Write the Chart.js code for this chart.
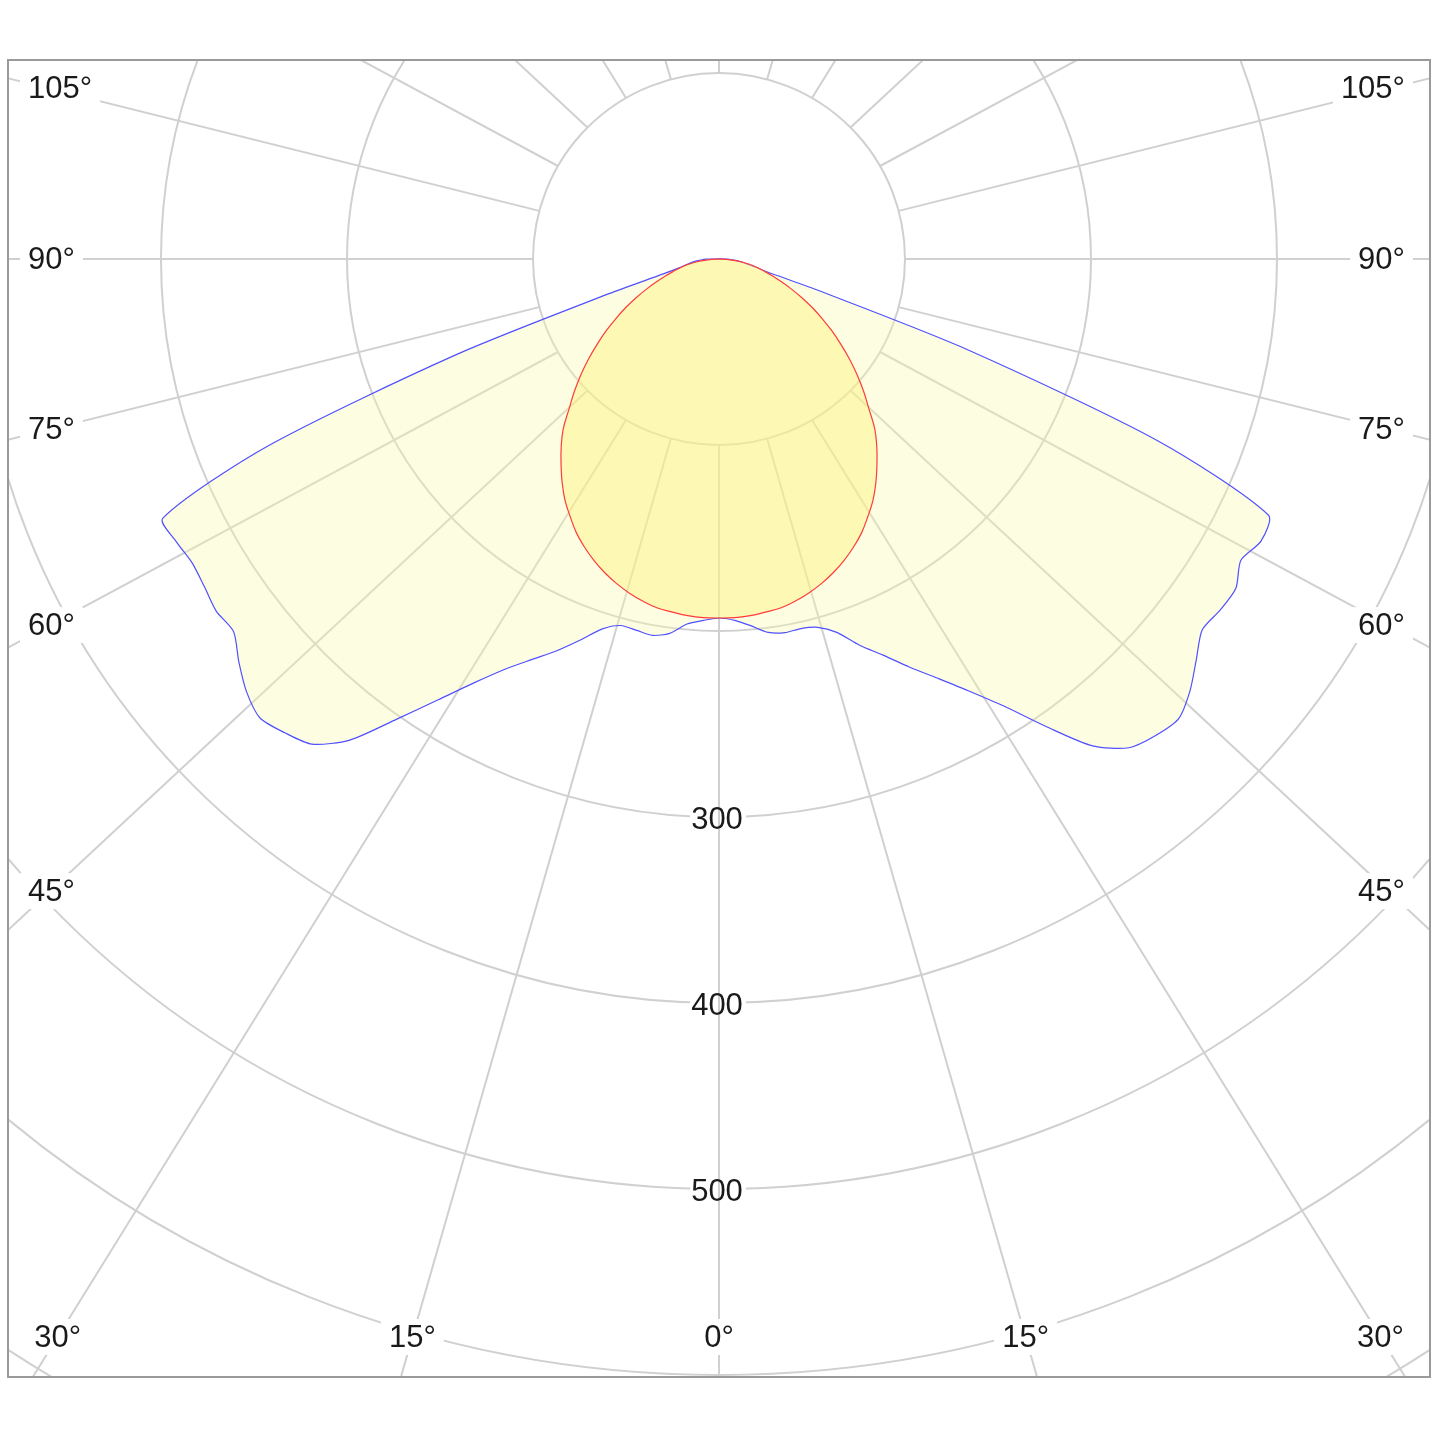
<!DOCTYPE html>
<html>
<head>
<meta charset="utf-8">
<script src="https://cdn.jsdelivr.net/npm/chart.js@4.4.1/dist/chart.umd.min.js"></script>
<style>
  html, body { margin: 0; padding: 0; background: #ffffff; }
  #wrap { position: relative; width: 1445px; height: 1445px; }
</style>
</head>
<body>
<div id="wrap"><canvas id="chart" width="1445" height="1445"></canvas></div>
<script>
// ---- data (luminous intensity) ----
const angles = [0, 2.5, 5, 7.5, 10, 12.5, 15, 17.5, 20, 22.5, 25, 27.5, 30, 32.5, 35, 37.5, 40, 42.5, 45,
                47.5, 50, 52.5, 55, 57.5, 60, 62.5, 65, 67.5, 70, 72.5, 75, 77.5, 80, 82.5, 85, 87.5, 90];

// blue curve, right half (C0)
const c0 = [193, 194.5, 198, 202.5, 204, 203.5, 205, 210.5, 221, 230.5, 242, 254, 268, 285, 307, 330, 343, 347.5, 349.5,
            343.5, 335, 327.5, 329, 329.5, 324, 328.5, 326, 255, 140, 55, 27, 20, 15, 12, 9, 6, 4];

// blue curve, left half (C180)
const c180 = [193, 194.5, 197, 203, 205.5, 204.5, 204, 208.5, 218, 228, 237.5, 248.5, 263, 281, 302, 326, 340.5, 345.5, 349,
              344.5, 337, 329, 330, 328, 327, 329, 330, 262, 150, 62, 31, 22, 18, 15, 12, 9, 6];

// red curve, both halves (C90 / C270)
const c90c270 = [193, 193, 192.5, 191.5, 190.5, 188.5, 186, 183, 179.5, 175.5, 171, 166, 160, 154, 147, 139.5, 132, 124, 114,
                 105.5, 97, 88.5, 80, 72, 64, 56.5, 49, 42, 35.5, 30, 25, 21, 17, 12.5, 8, 4, 0];

const rings = [100, 200, 300, 400, 500, 600, 700];
const ringLabels = [300, 400, 500];
const spokeAngles = [0, 15, 30, 45, 60, 75, 90, 105, 120, 135, 150, 165, 180];

// ---- helpers ----
const rad = d => d * Math.PI / 180;
function halfCurve(vals, side) {
  return angles.map((a, i) => ({ x: side * vals[i] * Math.sin(rad(a)), y: -vals[i] * Math.cos(rad(a)) }));
}
function closedCurve(leftVals, rightVals) {
  const L = halfCurve(leftVals, -1).reverse();
  const R = halfCurve(rightVals, 1);
  const pts = L.concat(R.slice(1));
  pts.push({ x: pts[0].x, y: pts[0].y });
  return pts;
}

const FONT = '31px "Liberation Sans", Arial, sans-serif';
const STRETCH = 1.07;

const polarGrid = {
  id: 'polarGrid',
  beforeDatasetsDraw(chart) {
    const { ctx, chartArea: a, scales: { x, y } } = chart;
    const cx = x.getPixelForValue(0), cy = y.getPixelForValue(0);
    ctx.save();
    ctx.beginPath();
    ctx.rect(a.left, a.top, a.right - a.left, a.bottom - a.top);
    ctx.clip();
    ctx.strokeStyle = '#d0d0d0';
    ctx.lineWidth = 2;
    rings.forEach(r => {
      ctx.beginPath();
      ctx.arc(cx, cy, x.getPixelForValue(r) - cx, 0, Math.PI * 2);
      ctx.stroke();
    });
    // ring label backgrounds
    ctx.font = FONT;
    ringLabels.forEach(v => {
      const py = y.getPixelForValue(-v);
      const w = ctx.measureText(String(v)).width;
      ctx.fillStyle = '#ffffff';
      ctx.fillRect(cx - w / 2 - 3, py - 6, w + 4, 12);
    });
    // spokes
    [-1, 1].forEach(s => {
      spokeAngles.forEach(d => {
        if (s === 1 && (d === 0 || d === 180)) return;
        const p1x = x.getPixelForValue(s * 100 * Math.sin(rad(d)));
        const p1y = y.getPixelForValue(-100 * Math.cos(rad(d)));
        const p2x = x.getPixelForValue(s * 2000 * STRETCH * Math.sin(rad(d)));
        const p2y = y.getPixelForValue(-2000 * Math.cos(rad(d)));
        ctx.beginPath();
        ctx.moveTo(p1x, p1y);
        ctx.lineTo(p2x, p2y);
        ctx.stroke();
      });
    });
    // ring labels
    ctx.fillStyle = '#1a1a1a';
    ctx.textAlign = 'center';
    ctx.textBaseline = 'middle';
    ringLabels.forEach(v => ctx.fillText(String(v), cx - 2, y.getPixelForValue(-v) + 3));
    ctx.restore();
  },
  afterDatasetsDraw(chart) {
    const { ctx, chartArea: a, scales: { x, y } } = chart;
    const xL = a.left + 42, xR = a.right - 42, yB = a.bottom - 40, yT = a.top + 22;
    ctx.save();
    ctx.font = FONT;
    ctx.textBaseline = 'middle';
    [-1, 1].forEach(s => {
      spokeAngles.forEach(d => {
        if (s === 1 && (d === 0 || d === 180)) return;
        const p1x = x.getPixelForValue(s * 100 * Math.sin(rad(d)));
        const p1y = y.getPixelForValue(-100 * Math.cos(rad(d)));
        const p2x = x.getPixelForValue(s * 2000 * STRETCH * Math.sin(rad(d)));
        const p2y = y.getPixelForValue(-2000 * Math.cos(rad(d)));
        const dx = p2x - p1x, dy = p2y - p1y;
        const cands = [];
        if (dx < 0) cands.push({ t: (xL - p1x) / dx, side: 'L' });
        if (dx > 0) cands.push({ t: (xR - p1x) / dx, side: 'R' });
        if (dy > 0) cands.push({ t: (yB - p1y) / dy, side: 'B' });
        if (dy < 0) cands.push({ t: (yT - p1y) / dy, side: 'T' });
        cands.sort((m, n) => m.t - n.t);
        const hit = cands[0];
        if (!hit || hit.side === 'T') return;
        const hx = p1x + dx * hit.t, hy = p1y + dy * hit.t;
        const txt = d + '°';
        const w = ctx.measureText(txt).width;
        let left;
        if (hit.side === 'L') left = a.left + 20;
        else if (hit.side === 'R') left = a.right - 25 - w;
        else left = hx - w / 2;
        ctx.fillStyle = '#ffffff';
        ctx.fillRect(left - 8, hy - 18, w + 16, 36);
        ctx.fillStyle = '#1a1a1a';
        ctx.textAlign = 'left';
        ctx.fillText(txt, left, hy + 1);
      });
    });
    ctx.strokeStyle = '#9a9a9a';
    ctx.lineWidth = 2;
    ctx.strokeRect(a.left, a.top, a.right - a.left, a.bottom - a.top);
    ctx.restore();
  }
};

new Chart(document.getElementById('chart'), {
  type: 'scatter',
  data: {
    datasets: [
      {
        label: 'C90 - C270',
        data: closedCurve(c90c270, c90c270),
        showLine: true,
        borderColor: '#ff3b3b',
        borderWidth: 1.2,
        backgroundColor: 'rgba(255, 240, 120, 0.42)',
        fill: 'shape',
        pointRadius: 0,
        tension: 0.4
      },
      {
        label: 'C0 - C180',
        data: closedCurve(c180, c0),
        showLine: true,
        borderColor: '#5050ff',
        borderWidth: 1.2,
        backgroundColor: 'rgba(250, 250, 170, 0.35)',
        fill: 'shape',
        pointRadius: 0,
        tension: 0.25
      }
    ]
  },
  options: {
    responsive: false,
    animation: false,
    layout: { padding: { left: 8, top: 60, right: 15, bottom: 68 } },
    scales: {
      x: { type: 'linear', display: false, min: -382.26, max: 382.26 },
      y: { type: 'linear', display: false, min: -601.08, max: 106.99 }
    },
    plugins: { legend: { display: false }, tooltip: { enabled: false } }
  },
  plugins: [polarGrid]
});
</script>
</body>
</html>
